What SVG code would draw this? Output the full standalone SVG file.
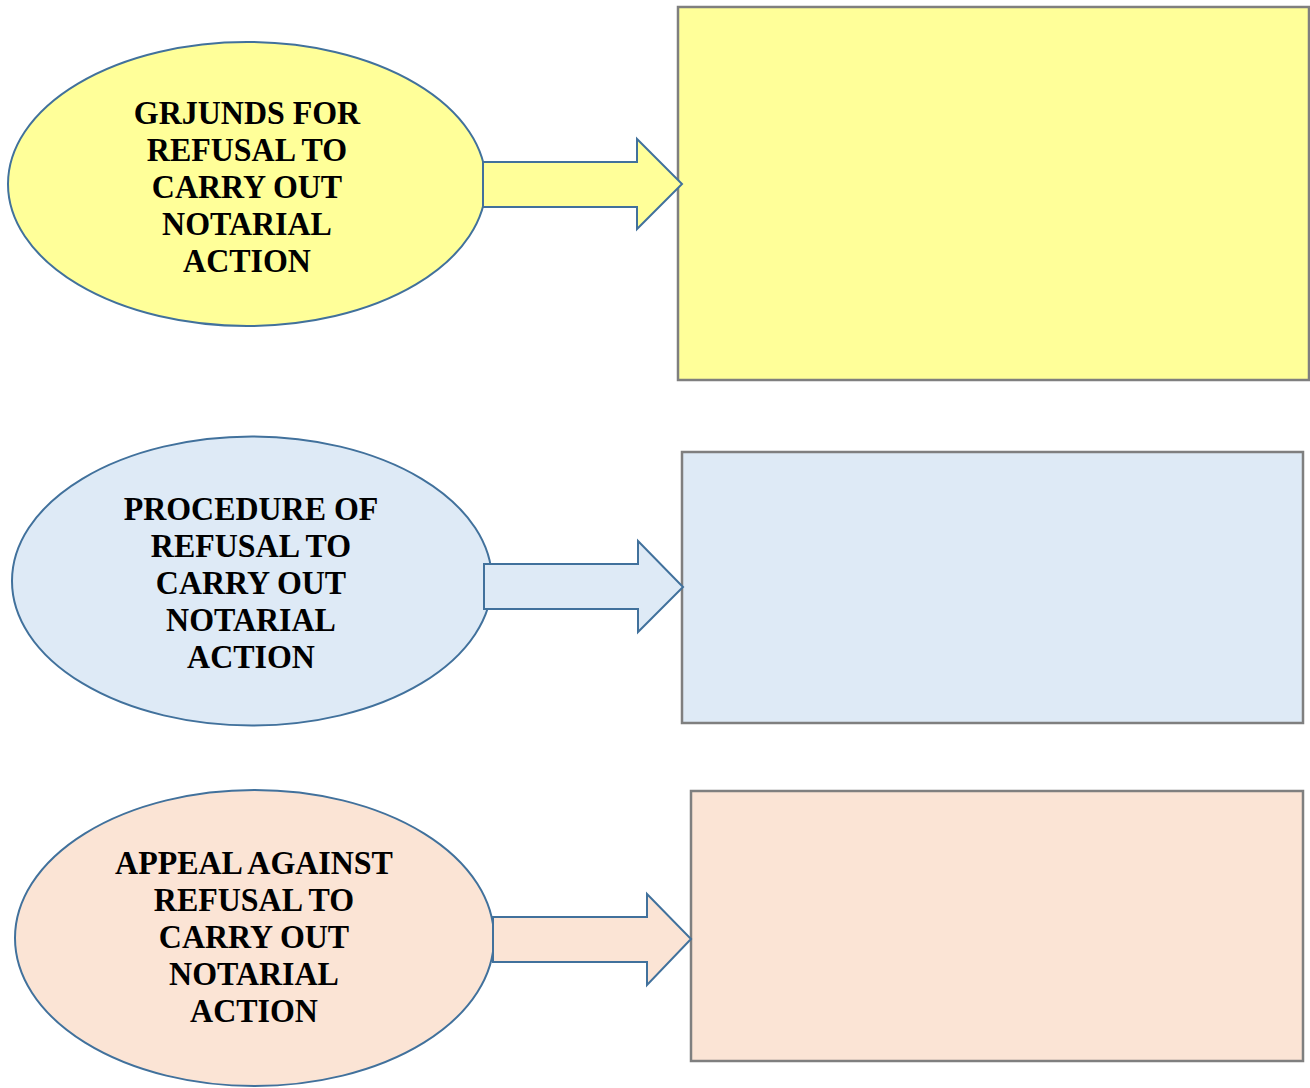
<svg xmlns="http://www.w3.org/2000/svg" width="1310" height="1088" viewBox="0 0 1310 1088">
  <style>
    .oval { stroke: #41719C; stroke-width: 2; }
    .box { stroke: #7F7F7F; stroke-width: 2.5; }
    .arrow { stroke: #41719C; stroke-width: 2; stroke-linejoin: miter; }
    .label { font-family: "Liberation Serif", "Times New Roman", serif; font-weight: bold; font-size: 34px; fill: #000; text-anchor: middle; }
    .yellow { fill: #FFFF99; }
    .blue { fill: #DEEAF6; }
    .peach { fill: #FBE4D5; }
  </style>

  <!-- empty target boxes -->
  <g id="box-grounds"><rect class="box yellow" x="678" y="7" width="631" height="373"/></g>
  <g id="box-procedure"><rect class="box blue" x="682" y="452" width="621" height="271"/></g>
  <g id="box-appeal"><rect class="box peach" x="691" y="791" width="612" height="270"/></g>

  <!-- labels use a slightly condensed bold serif; one text element per line -->
  <g id="oval-grounds">
    <ellipse class="oval yellow" cx="247" cy="184" rx="239" ry="142"/>
    <g transform="translate(247,0) scale(0.94,1)">
      <text class="label" x="0" y="124">GRJUNDS FOR</text>
      <text class="label" x="0" y="161">REFUSAL TO</text>
      <text class="label" x="0" y="198">CARRY OUT</text>
      <text class="label" x="0" y="235">NOTARIAL</text>
      <text class="label" x="0" y="272">ACTION</text>
    </g>
  </g>

  <g id="oval-procedure">
    <ellipse class="oval blue" cx="252" cy="581" rx="240" ry="144.5"/>
    <g transform="translate(251,0) scale(0.94,1)">
      <text class="label" x="0" y="520">PROCEDURE OF</text>
      <text class="label" x="0" y="557">REFUSAL TO</text>
      <text class="label" x="0" y="594">CARRY OUT</text>
      <text class="label" x="0" y="631">NOTARIAL</text>
      <text class="label" x="0" y="668">ACTION</text>
    </g>
  </g>

  <g id="oval-appeal">
    <ellipse class="oval peach" cx="254.5" cy="938" rx="239.5" ry="148"/>
    <g transform="translate(254,0) scale(0.94,1)">
      <text class="label" x="0" y="874">APPEAL AGAINST</text>
      <text class="label" x="0" y="911">REFUSAL TO</text>
      <text class="label" x="0" y="948">CARRY OUT</text>
      <text class="label" x="0" y="985">NOTARIAL</text>
      <text class="label" x="0" y="1022">ACTION</text>
    </g>
  </g>

  <!-- block arrows from each oval to its box, drawn over the oval edge -->
  <g id="connectors">
    <polygon class="arrow yellow" points="483,162 637,162 637,139 682,184 637,229 637,207 483,207"/>
    <polygon class="arrow blue" points="484,564 638,564 638,541 683,587 638,632 638,609 484,609"/>
    <polygon class="arrow peach" points="493,917 647,917 647,894 691,939 647,985 647,962 493,962"/>
  </g>
</svg>
